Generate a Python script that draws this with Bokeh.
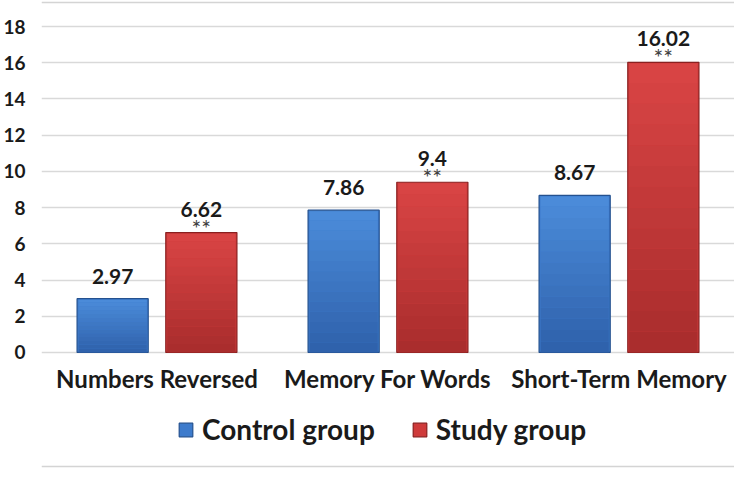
from bokeh.plotting import figure
from bokeh.models import (ColumnDataSource, FactorRange, LabelSet, Legend, LegendItem,
                          FixedTicker, Span)
from bokeh.core.properties import value
from bokeh.transform import dodge
from bokeh.embed import file_html
from bokeh.resources import INLINE

categories = ["Numbers Reversed", "Memory For Words", "Short-Term Memory"]
control = [2.97, 7.86, 8.67]
study = [6.62, 9.4, 16.02]
significance = ["**", "**", "**"]
series_names = ["Control group", "Study group"]
y_ticks = [0, 2, 4, 6, 8, 10, 12, 14, 16, 18]

FONT = "Lato"
BLUE, BLUE_EDGE = "#3d7bcc", "#24518f"
RED, RED_EDGE = "#cf3b3b", "#8a2020"
BLUE_GRAD = ("#2e60aa", "#4c8ddb")   # bottom -> top
RED_GRAD = ("#a82c2c", "#da4545")

def mix(c1, c2, t):
    a = [int(c1[i:i + 2], 16) for i in (1, 3, 5)]
    b = [int(c2[i:i + 2], 16) for i in (1, 3, 5)]
    return "#" + "".join(f"{round(x + (y - x) * t):02x}" for x, y in zip(a, b))

src = ColumnDataSource(dict(
    cat=categories,
    control=control,
    study=study,
    control_lbl=[f"{v:g}" for v in control],
    study_lbl=[f"{v:g}" for v in study],
    sig=significance,
))

# gradient bands derived from the values (shading only)
N = 14
def bands(vals, grad):
    cat, bot, top, col = [], [], [], []
    for c, v in zip(categories, vals):
        for i in range(N):
            cat.append(c)
            bot.append(v * i / N)
            top.append(v * (i + 1) / N - (0.06 if i == N - 1 else 0))
            col.append(mix(grad[0], grad[1], (i + 0.5) / N))
    return ColumnDataSource(dict(cat=cat, bottom=bot, top=top, color=col))

Y_START, Y_END = -6.407, 19.436
p = figure(
    x_range=FactorRange(*categories), y_range=(Y_START, Y_END),
    width=734, height=468, output_backend="svg", toolbar_location=None,
    min_border_left=32, min_border_right=0, min_border_top=0, min_border_bottom=0,
    background_fill_color="white", border_fill_color="white",
    outline_line_color=None,
)

OFF = 0.192
W = 0.308
r_ctrl = p.vbar(x=dodge("cat", -OFF, range=p.x_range), top="control", width=W, source=src,
                fill_color=BLUE, line_color=BLUE_EDGE, line_width=1.2)
r_study = p.vbar(x=dodge("cat", OFF, range=p.x_range), top="study", width=W, source=src,
                 fill_color=RED, line_color=RED_EDGE, line_width=1.2)
p.vbar(x=dodge("cat", -OFF, range=p.x_range), bottom="bottom", top="top", width=W - 0.012,
       fill_color="color", line_color=None, source=bands(control, BLUE_GRAD))
p.vbar(x=dodge("cat", OFF, range=p.x_range), bottom="bottom", top="top", width=W - 0.012,
       fill_color="color", line_color=None, source=bands(study, RED_GRAD))

lbl_kw = dict(text_font=value(FONT), text_font_style="bold", text_font_size="21px",
              text_color="#1a1a1a", text_align="center", text_baseline="alphabetic")
p.add_layout(LabelSet(x=dodge("cat", -OFF, range=p.x_range), y="control", text="control_lbl",
                      y_offset=15, source=src, **lbl_kw))
p.add_layout(LabelSet(x=dodge("cat", OFF, range=p.x_range), y="study", text="study_lbl",
                      y_offset=16, source=src, **lbl_kw))
p.add_layout(LabelSet(x=dodge("cat", OFF, range=p.x_range), y="study", text="sig",
                      y_offset=19, source=src, text_font=value(FONT), text_font_size="23px",
                      text_color="#404040", text_align="center", text_baseline="top"))

p.xgrid.grid_line_color = None
p.ygrid.grid_line_color = "#d9d9d9"
p.ygrid.grid_line_width = 1.5
p.yaxis.ticker = FixedTicker(ticks=y_ticks)
p.xaxis.fixed_location = 0

for ax in (p.xaxis, p.yaxis):
    ax.axis_line_color = None
    ax.major_tick_line_color = None
    ax.minor_tick_line_color = None
    ax.major_label_text_font = FONT
    ax.major_label_text_font_style = "bold"
    ax.major_label_text_color = "#1a1a1a"
p.yaxis.major_label_text_font_size = "19px"
p.yaxis.major_label_standoff = 10
p.xaxis.major_label_text_font_size = "24px"
p.xaxis.major_label_standoff = 6

# chart-area border lines (top and bottom)
p.add_layout(Span(location=19.33, dimension="width", line_color="#d4d4d4", line_width=1.5))
p.add_layout(Span(location=-6.297, dimension="width", line_color="#d4d4d4", line_width=1.5))

legend = Legend(
    items=[LegendItem(label=series_names[0], renderers=[r_ctrl]),
           LegendItem(label=series_names[1], renderers=[r_study])],
    orientation="horizontal", location=(136, 22),
    border_line_color=None, background_fill_alpha=0,
    label_text_font=FONT, label_text_font_style="bold", label_text_font_size="28px",
    label_text_color="#1a1a1a",
    glyph_width=17, glyph_height=17, label_standoff=8, spacing=36,
    margin=0, padding=0,
)
p.add_layout(legend, "center")

open("out.html", "w").write(file_html(p, INLINE))
